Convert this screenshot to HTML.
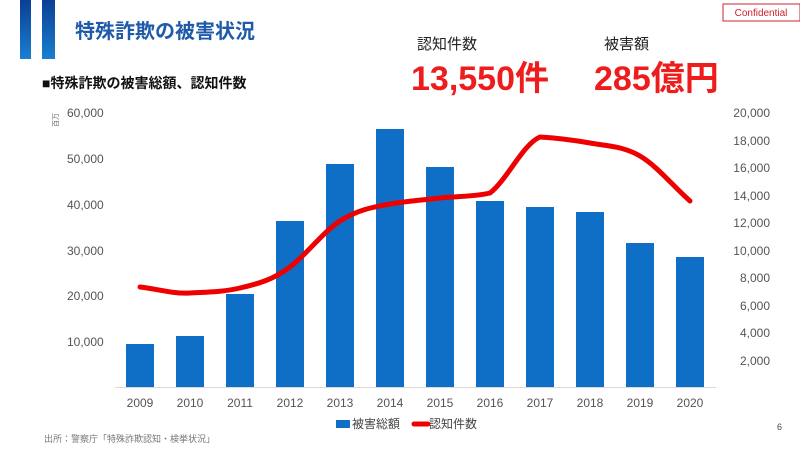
<!DOCTYPE html>
<html><head><meta charset="utf-8"><style>
body{margin:0;width:800px;height:450px;background:#fff;overflow:hidden;font-family:"Liberation Sans","Noto Sans CJK JP",sans-serif;}
</style></head><body>
<svg width="800" height="450" xmlns="http://www.w3.org/2000/svg" style="position:absolute;left:0;top:0">
<defs><linearGradient id="g" x1="0" y1="0" x2="0" y2="1"><stop offset="0" stop-color="#0a3f94"/><stop offset="1" stop-color="#1a7fd0"/></linearGradient></defs>
<rect x="20" y="0" width="11" height="59" fill="url(#g)"/>
<rect x="42" y="0" width="13" height="59" fill="url(#g)"/>
<text x="75" y="38" font-size="20" font-weight="bold" fill="#1f5ba8" font-family="Liberation Sans,Noto Sans CJK JP,sans-serif">特殊詐欺の被害状況</text>
<rect x="723" y="4" width="77" height="17" fill="#fff" stroke="#d0202a" stroke-width="1"/>
<text x="761" y="16" font-size="10" fill="#d0202a" text-anchor="middle">Confidential</text>
<text x="42" y="88" font-size="14" font-weight="bold" fill="#111" font-family="Liberation Sans,Noto Sans CJK JP,sans-serif">■特殊詐欺の被害総額、認知件数</text>
<text x="417" y="49" font-size="15" fill="#222" font-family="Liberation Sans,Noto Sans CJK JP,sans-serif">認知件数</text>
<text x="604" y="49" font-size="15" fill="#222" font-family="Liberation Sans,Noto Sans CJK JP,sans-serif">被害額</text>
<text x="411" y="90" font-size="34" font-weight="bold" fill="#ee1c1c" font-family="Liberation Sans,Noto Sans CJK JP,sans-serif">13,550件</text>
<text x="594" y="90" font-size="34" font-weight="bold" fill="#ee1c1c" font-family="Liberation Sans,Noto Sans CJK JP,sans-serif">285億円</text>
<text x="58" y="127" font-size="7" fill="#666" transform="rotate(-90 58 127)" font-family="Liberation Sans,Noto Sans CJK JP,sans-serif">百万</text>
<g font-size="12" fill="#555">
<text x="67" y="117">60,000</text><text x="67" y="163">50,000</text><text x="67" y="209">40,000</text>
<text x="67" y="255">30,000</text><text x="67" y="300">20,000</text><text x="67" y="346">10,000</text>
<g text-anchor="end"><text x="770" y="117">20,000</text><text x="770" y="145">18,000</text><text x="770" y="172">16,000</text><text x="770" y="200">14,000</text><text x="770" y="227">12,000</text><text x="770" y="255">10,000</text><text x="770" y="282">8,000</text><text x="770" y="310">6,000</text><text x="770" y="337">4,000</text><text x="770" y="365">2,000</text></g>
<g text-anchor="middle"><text x="140" y="407">2009</text><text x="190" y="407">2010</text><text x="240" y="407">2011</text><text x="290" y="407">2012</text><text x="340" y="407">2013</text><text x="390" y="407">2014</text><text x="440" y="407">2015</text><text x="490" y="407">2016</text><text x="540" y="407">2017</text><text x="590" y="407">2018</text><text x="640" y="407">2019</text><text x="690" y="407">2020</text></g>
</g>
<line x1="115" y1="387.5" x2="716" y2="387.5" stroke="#d9d9d9"/>
<g fill="#0f6fc6">
<rect x="126" y="344" width="28" height="43"/><rect x="176" y="336" width="28" height="51"/><rect x="226" y="294" width="28" height="93"/>
<rect x="276" y="221" width="28" height="166"/><rect x="326" y="164" width="28" height="223"/><rect x="376" y="129" width="28" height="258"/>
<rect x="426" y="167" width="28" height="220"/><rect x="476" y="201" width="28" height="186"/><rect x="526" y="207" width="28" height="180"/>
<rect x="576" y="212" width="28" height="175"/><rect x="626" y="243" width="28" height="144"/><rect x="676" y="257" width="28" height="130"/>
</g>
<path d="M140,287 C157,289 173,294 190,293 C207,292 223,292 240,288 C257,284 273,280 290,267 C307,254 323,232 340,221 C357,210 373,207 390,204 C407,201 423,200 440,198 C457,196 473,197 490,193 C507,180 523,144 540,137 C557,138 573,140 590,143 C607,146 623,146 640,156 C657,166 673,186 690,201" fill="none" stroke="#ee0000" stroke-width="5" stroke-linecap="round"/>
<rect x="336" y="420" width="14" height="8" fill="#0f6fc6"/>
<text x="352" y="428" font-size="12" fill="#444" font-family="Liberation Sans,Noto Sans CJK JP,sans-serif">被害総額</text>
<line x1="414" y1="424" x2="428" y2="424" stroke="#ee0000" stroke-width="5" stroke-linecap="round"/>
<text x="429" y="428" font-size="12" fill="#444" font-family="Liberation Sans,Noto Sans CJK JP,sans-serif">認知件数</text>
<text x="44" y="442" font-size="9" fill="#777" font-family="Liberation Sans,Noto Sans CJK JP,sans-serif">出所：警察庁「特殊詐欺認知・検挙状況」</text>
<text x="777" y="430" font-size="9" fill="#444">6</text>
</svg>
</body></html>
